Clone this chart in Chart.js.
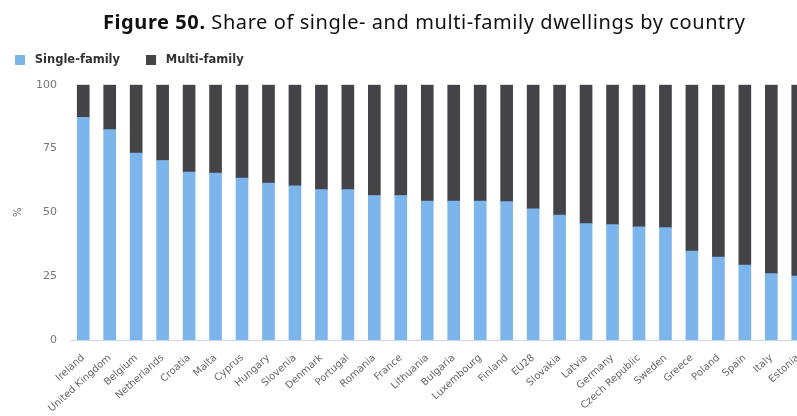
<!DOCTYPE html>
<html>
<head>
<meta charset="utf-8">
<script src="https://cdn.jsdelivr.net/npm/chart.js@4"></script>
<style>
  body { margin: 0; overflow: hidden; background: #fff; }
  #wrap { position: relative; width: 816px; height: 416px; }
  #title {
    position: absolute; left: 103px; top: 8px; white-space: nowrap;
    font-family: "Noto Sans", sans-serif; font-size: 20px; letter-spacing: 0.58px; color: #111;
  }
  #title b { font-weight: bold; }
</style>
</head>
<body>
<div id="wrap">
  <div id="title"><b>Figure 50.</b> Share of single- and multi-family dwellings by country</div>
  <canvas id="chart" width="816" height="416"></canvas>
</div>
<script>
const categories = ["Ireland", "United Kingdom", "Belgium", "Netherlands", "Croatia", "Malta", "Cyprus",
  "Hungary", "Slovenia", "Denmark", "Portugal", "Romania", "France", "Lithuania", "Bulgaria",
  "Luxembourg", "Finland", "EU28", "Slovakia", "Latvia", "Germany", "Czech Republic", "Sweden",
  "Greece", "Poland", "Spain", "Italy", "Estonia"];
const singleFamily = [87.2, 82.4, 73.2, 70.3, 65.8, 65.4, 63.4, 61.5, 60.4, 58.9, 58.9, 56.6, 56.6,
  54.4, 54.4, 54.4, 54.2, 51.4, 48.9, 45.6, 45.2, 44.3, 44.0, 34.8, 32.5, 29.3, 26.0, 25.0];
const multiFamily = [12.8, 17.6, 26.8, 29.7, 34.2, 34.6, 36.6, 38.5, 39.6, 41.1, 41.1, 43.4, 43.4,
  45.6, 45.6, 45.6, 45.8, 48.6, 51.1, 54.4, 54.8, 55.7, 56.0, 65.2, 67.5, 70.7, 74.0, 75.0];
const yTicks = [0, 25, 50, 75, 100];
const colors = ["#7cb5ec", "#434348"];

// square swatch with empty room on its right, so the label text sits further away
const swatch = (color) => {
  const c = document.createElement("canvas");
  c.width = 14;
  c.height = 10;
  const g = c.getContext("2d");
  g.fillStyle = color;
  g.fillRect(0, 0, 10, 10);
  return c;
};
const swatches = colors.map(swatch);

// legend sits a bit left of its own padding in the original
const legendShift = {
  id: "legendShift",
  afterLayout(chart) {
    chart.legend.left -= 11;
    chart.legend.right -= 11;
  },
};

const ctx = document.getElementById("chart").getContext("2d");
new Chart(ctx, {
  type: "bar",
  data: {
    labels: categories,
    datasets: [
      { label: "Single-family", data: singleFamily, backgroundColor: colors[0], barThickness: 12 },
      { label: "Multi-family", data: multiFamily, backgroundColor: colors[1], barThickness: 12 },
    ],
  },
  options: {
    responsive: false,
    animation: false,
    layout: { padding: { top: 28, right: 5, left: 0, bottom: 0 } },
    plugins: {
      legend: {
        align: "start",
        labels: {
          usePointStyle: true,
          pointStyleWidth: 14,
          boxHeight: 10,
          color: "#333",
          padding: 26,
          font: { family: "DejaVu Sans", size: 11.5, weight: "bold" },
          generateLabels: (chart) => {
            const items = Chart.defaults.plugins.legend.labels.generateLabels(chart);
            items.forEach((it, i) => { it.pointStyle = swatches[i]; });
            return items;
          },
        },
      },
      // empty spacer between legend and plot
      subtitle: { display: true, text: " ", weight: 500, font: { size: 1 }, padding: { top: 8, bottom: 0 } },
      tooltip: { enabled: false },
    },
    scales: {
      x: {
        stacked: true,
        grid: { display: false },
        border: { color: "#ccd6eb" },
        ticks: {
          color: "#666",
          padding: 4,
          minRotation: 42,
          maxRotation: 42,
          font: { family: "DejaVu Sans", size: 10 },
        },
        afterFit: (s) => { s.height = 76; },
      },
      y: {
        stacked: true,
        min: 0,
        max: 100,
        afterBuildTicks: (s) => { s.ticks = yTicks.map((v) => ({ value: v })); },
        grid: { display: false },
        border: { display: false },
        title: { display: true, text: "%", color: "#666", font: { family: "DejaVu Sans", size: 10 }, padding: { top: 12, bottom: 0 } },
        ticks: { color: "#777", padding: 5, font: { family: "DejaVu Sans", size: 11 } },
        afterFit: (s) => { s.width = 70; },
      },
    },
  },
  plugins: [legendShift],
});
</script>
</body>
</html>
